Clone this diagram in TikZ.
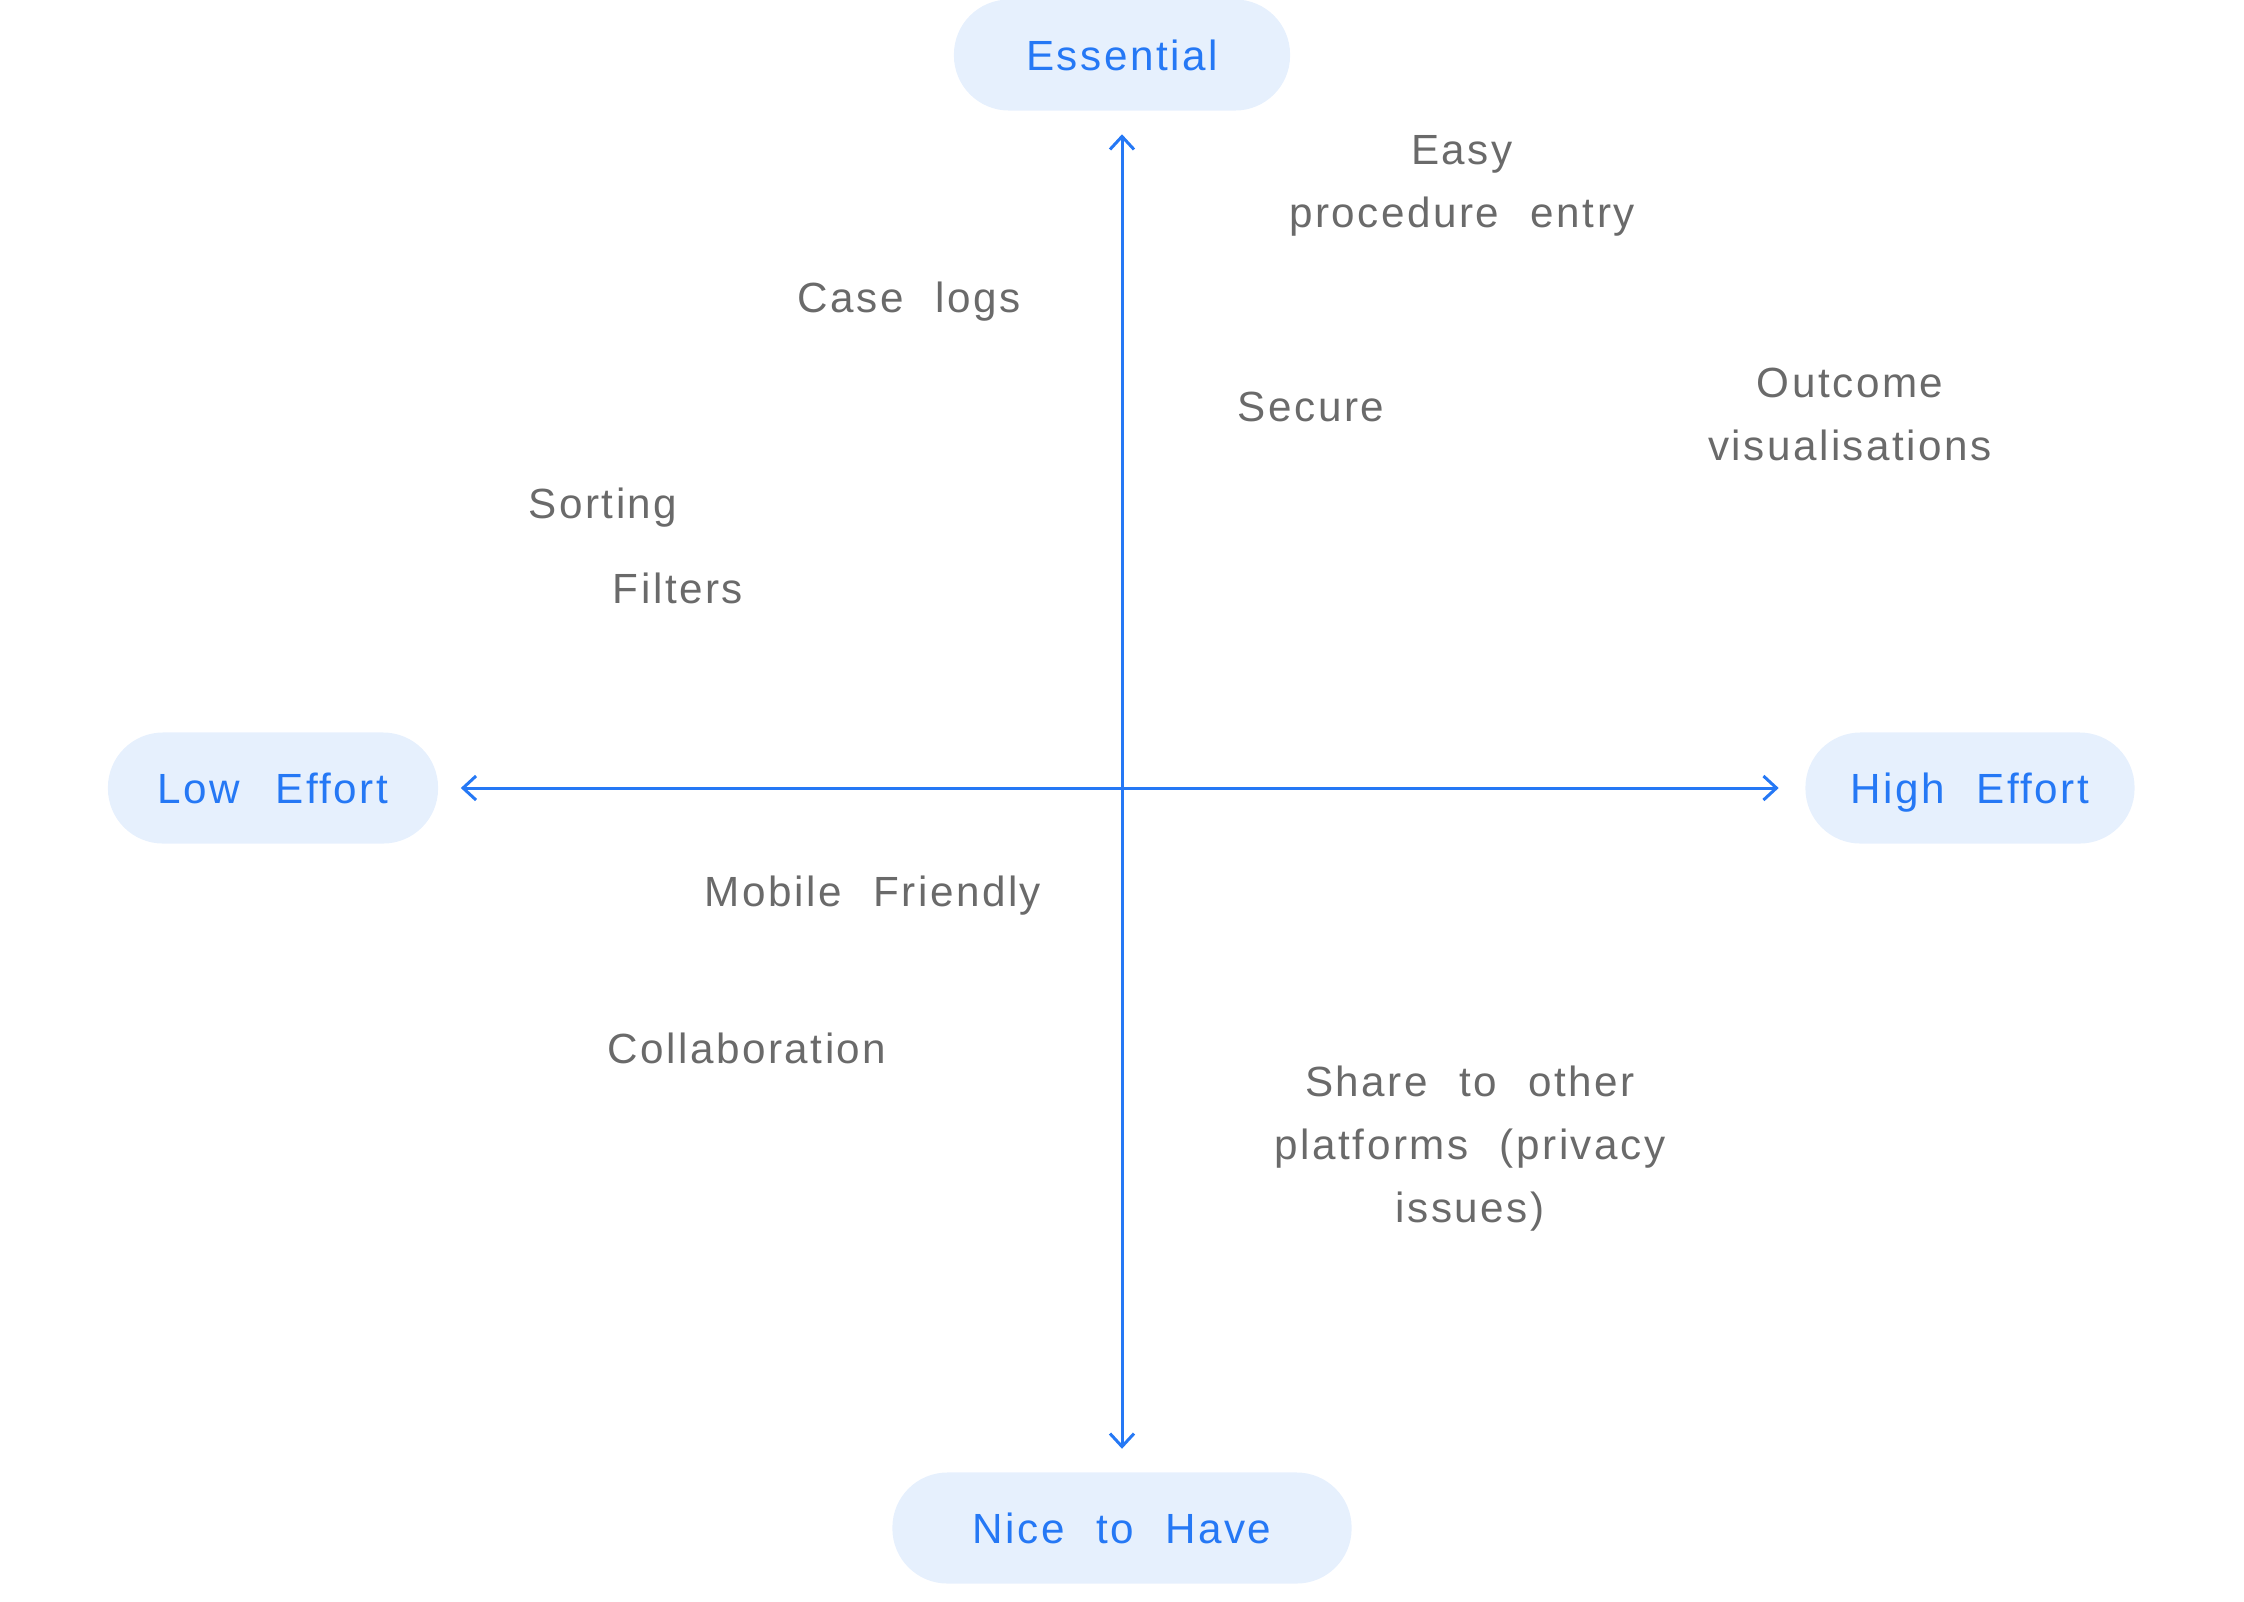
\documentclass[tikz,border=0pt]{standalone}
\usepackage{fontspec}
\setmainfont{Liberation Sans}[LetterSpace=6, WordSpace=2.2]
\usetikzlibrary{arrows.meta}
\definecolor{axisblue}{HTML}{2578F5}
\definecolor{pillfill}{HTML}{E6F0FD}
\definecolor{txtgray}{HTML}{6A6A6A}
\tikzset{
  pill/.style={rectangle, rounded corners=0.55cm, fill=pillfill, text=axisblue,
    minimum height=1.11cm, inner sep=0pt, text depth=0pt,
    font=\fontsize{12}{17.9}\selectfont},
  item/.style={text=txtgray, align=center, inner sep=0pt,
    font=\fontsize{12}{17.9}\selectfont},
  axis/.style={draw=axisblue, line width=0.03cm,
    {Straight Barb[length=0.13cm, width=0.24cm]}-{Straight Barb[length=0.13cm, width=0.24cm]}}
}
\begin{document}
\begin{tikzpicture}[x=0.01cm, y=-0.01cm]
\useasboundingbox (0,0) rectangle (2244,1602);
% pills
\node[pill, minimum width=3.36cm] (ess) at (1122,55) {Essential};
\node[pill, minimum width=3.30cm] (low) at (273,788) {Low\hspace{0.04cm} Effort};
\node[pill, minimum width=3.29cm] (high) at (1970,788) {High Effort};
\node[pill, minimum width=4.59cm] (nice) at (1122,1528) {Nice to Have};
% axes
\draw[axis, shorten <=0.23cm, shorten >=0.23cm] (ess) -- (nice);
\draw[axis, shorten <=0.22cm, shorten >=0.26cm] (low) -- (high);
% items
\node[item] (easy) at (1462,186) {Easy\\procedure entry};
\node[item] (case) at (909,302) {Case logs};
\node[item] (secure) at (1311,407) {Secure};
\node[item] (outcome) at (1850,414) {Outcome\\visualisations};
\node[item] (sorting) at (603,508) {Sorting};
\node[item] (filters) at (678,588) {Filters};
\node[item] (mobile) at (873,896) {Mobile Friendly};
\node[item] (collab) at (747,1048) {Collaboration};
\node[item] (share) at (1470,1149) {Share to other\\platforms (privacy\\issues)};
\end{tikzpicture}
\end{document}
